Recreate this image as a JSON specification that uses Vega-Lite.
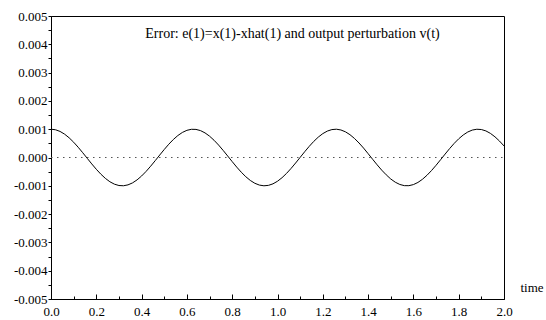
{
  "$schema": "https://vega.github.io/schema/vega-lite/v6.json",
  "width": 453,
  "height": 283,
  "autosize": {"type": "none"},
  "padding": {"left": 51, "top": 16, "right": 42, "bottom": 21},
  "background": "white",
  "config": {
    "view": {"stroke": "black", "strokeWidth": 1},
    "font": "Liberation Serif",
    "axis": {"labelOverlap": false, "labelFont": "Liberation Serif", "labelFontSize": 13, "labelColor": "black", "titleFont": "Liberation Serif"}
  },
  "resolve": {"axis": {"x": "independent"}},
  "datasets": {
    "err": [
      {"t": 0.00, "val": 0.00100000}, {"t": 0.02, "val": 0.00098007}, {"t": 0.04, "val": 0.00092106}, {"t": 0.06, "val": 0.00082534},
      {"t": 0.08, "val": 0.00069671}, {"t": 0.10, "val": 0.00054030}, {"t": 0.12, "val": 0.00036236}, {"t": 0.14, "val": 0.00016997},
      {"t": 0.16, "val": -0.00002920}, {"t": 0.18, "val": -0.00022720}, {"t": 0.20, "val": -0.00041615}, {"t": 0.22, "val": -0.00058850},
      {"t": 0.24, "val": -0.00073739}, {"t": 0.26, "val": -0.00085689}, {"t": 0.28, "val": -0.00094222}, {"t": 0.30, "val": -0.00098999},
      {"t": 0.32, "val": -0.00099829}, {"t": 0.34, "val": -0.00096680}, {"t": 0.36, "val": -0.00089676}, {"t": 0.38, "val": -0.00079097},
      {"t": 0.40, "val": -0.00065364}, {"t": 0.42, "val": -0.00049026}, {"t": 0.44, "val": -0.00030733}, {"t": 0.46, "val": -0.00011215},
      {"t": 0.48, "val": 0.00008750}, {"t": 0.50, "val": 0.00028366}, {"t": 0.52, "val": 0.00046852}, {"t": 0.54, "val": 0.00063469},
      {"t": 0.56, "val": 0.00077557}, {"t": 0.58, "val": 0.00088552}, {"t": 0.60, "val": 0.00096017}, {"t": 0.62, "val": 0.00099654},
      {"t": 0.64, "val": 0.00099318}, {"t": 0.66, "val": 0.00095023}, {"t": 0.68, "val": 0.00086940}, {"t": 0.70, "val": 0.00075390},
      {"t": 0.72, "val": 0.00060835}, {"t": 0.74, "val": 0.00043855}, {"t": 0.76, "val": 0.00025126}, {"t": 0.78, "val": 0.00005396},
      {"t": 0.80, "val": -0.00014550}, {"t": 0.82, "val": -0.00033915}, {"t": 0.84, "val": -0.00051929}, {"t": 0.86, "val": -0.00067872},
      {"t": 0.88, "val": -0.00081109}, {"t": 0.90, "val": -0.00091113}, {"t": 0.92, "val": -0.00097484}, {"t": 0.94, "val": -0.00099969},
      {"t": 0.96, "val": -0.00098469}, {"t": 0.98, "val": -0.00093043}, {"t": 1.00, "val": -0.00083907}, {"t": 1.02, "val": -0.00071428},
      {"t": 1.04, "val": -0.00056112}, {"t": 1.06, "val": -0.00038577}, {"t": 1.08, "val": -0.00019433}, {"t": 1.10, "val": 0.00000443},
      {"t": 1.12, "val": 0.00020300}, {"t": 1.14, "val": 0.00039349}, {"t": 1.16, "val": 0.00056828}, {"t": 1.18, "val": 0.00072035},
      {"t": 1.20, "val": 0.00084385}, {"t": 1.22, "val": 0.00093332}, {"t": 1.24, "val": 0.00098619}, {"t": 1.26, "val": 0.00099943},
      {"t": 1.28, "val": 0.00097283}, {"t": 1.30, "val": 0.00090745}, {"t": 1.32, "val": 0.00080588}, {"t": 1.34, "val": 0.00067213},
      {"t": 1.36, "val": 0.00051208}, {"t": 1.38, "val": 0.00033239}, {"t": 1.40, "val": 0.00013674}, {"t": 1.42, "val": -0.00006277},
      {"t": 1.44, "val": -0.00025998}, {"t": 1.46, "val": -0.00044568}, {"t": 1.48, "val": -0.00061207}, {"t": 1.50, "val": -0.00075969},
      {"t": 1.52, "val": -0.00087330}, {"t": 1.54, "val": -0.00095266}, {"t": 1.56, "val": -0.00099482}, {"t": 1.58, "val": -0.00099577},
      {"t": 1.60, "val": -0.00095766}, {"t": 1.62, "val": -0.00088137}, {"t": 1.64, "val": -0.00076998}, {"t": 1.66, "val": -0.00062775},
      {"t": 1.68, "val": -0.00046108}, {"t": 1.70, "val": -0.00027516}, {"t": 1.72, "val": -0.00007868}, {"t": 1.74, "val": 0.00012094},
      {"t": 1.76, "val": 0.00031575}, {"t": 1.78, "val": 0.00049800}, {"t": 1.80, "val": 0.00066032}, {"t": 1.82, "val": 0.00079602},
      {"t": 1.84, "val": 0.00090073}, {"t": 1.86, "val": 0.00096899}, {"t": 1.88, "val": 0.00099876}, {"t": 1.90, "val": 0.00098870},
      {"t": 1.92, "val": 0.00093922}, {"t": 1.94, "val": 0.00085234}, {"t": 1.96, "val": 0.00073137}, {"t": 1.98, "val": 0.00058151},
      {"t": 2.00, "val": 0.00040808}
    ],
    "pert": [
      {"t": 0.0, "val": 0.0},
      {"t": 2.0, "val": 0.0}
    ]
  },
  "encoding": {
    "x": {
      "field": "t",
      "type": "quantitative",
      "scale": {"domain": [0, 2], "nice": false, "zero": false},
      "axis": {
        "values": [0, 0.1, 0.2, 0.3, 0.4, 0.5, 0.6, 0.7, 0.8, 0.9, 1.0, 1.1, 1.2, 1.3, 1.4, 1.5, 1.6, 1.7, 1.8, 1.9, 2.0],
        "labelExpr": "round(datum.value*10) % 2 == 0 ? format(datum.value, '.1f') : ''",
        "grid": false,
        "domainColor": "black",
        "domainWidth": 1,
        "tickColor": "black",
        "tickWidth": 1,
        "tickSize": {"condition": {"test": "round(datum.value*10) % 2 == 0", "value": -5}, "value": -3},
        "labelPadding": 11,
        "labelFont": "Liberation Serif",
        "labelFontSize": 13,
        "labelColor": "black",
        "labelFlush": false,
        "labelOverlap": false,
        "title": "time",
        "titleFont": "Liberation Serif",
        "titleFontSize": 13,
        "titleFontWeight": "normal",
        "titleColor": "black",
        "titleAlign": "left",
        "titleBaseline": "middle",
        "titleX": 469,
        "titleY": -12
      }
    },
    "y": {
      "field": "val",
      "type": "quantitative",
      "scale": {"domain": [-0.005, 0.005], "nice": false, "zero": false},
      "axis": {
        "values": [-0.005, -0.0045, -0.004, -0.0035, -0.003, -0.0025, -0.002, -0.0015, -0.001, -0.0005, 0, 0.0005, 0.001, 0.0015, 0.002, 0.0025, 0.003, 0.0035, 0.004, 0.0045, 0.005],
        "labelExpr": "abs(round(datum.value*2000)) % 2 == 0 ? replace(format(datum.value, '.3f'), '\u2212', '-') : ''",
        "grid": false,
        "domainColor": "black",
        "domainWidth": 1,
        "tickColor": "black",
        "tickWidth": 1,
        "tickSize": 3,
        "labelPadding": 1,
        "labelFont": "Liberation Serif",
        "labelFontSize": 13,
        "labelColor": "black",
        "labelFlush": false,
        "labelOverlap": false,
        "title": null
      }
    }
  },
  "layer": [
    {
      "data": {"name": "pert"},
      "mark": {"type": "line", "stroke": "#555555", "strokeWidth": 1.2, "strokeDash": [1.5, 4.5], "clip": true}
    },
    {
      "data": {"name": "err"},
      "mark": {"type": "line", "stroke": "black", "strokeWidth": 1, "clip": true},
      "encoding": {
        "x": {
          "field": "t",
          "type": "quantitative",
          "axis": {
            "orient": "top",
            "domain": false,
            "ticks": false,
            "labels": false,
            "grid": false,
            "title": "Error: e(1)=x(1)-xhat(1) and output perturbation v(t)",
            "titleFont": "Liberation Serif",
            "titleFontSize": 14,
            "titleFontWeight": "normal",
            "titleColor": "black",
            "titleAlign": "center",
            "titleBaseline": "middle",
            "titleX": 241,
            "titleY": 17
          }
        }
      }
    }
  ]
}
